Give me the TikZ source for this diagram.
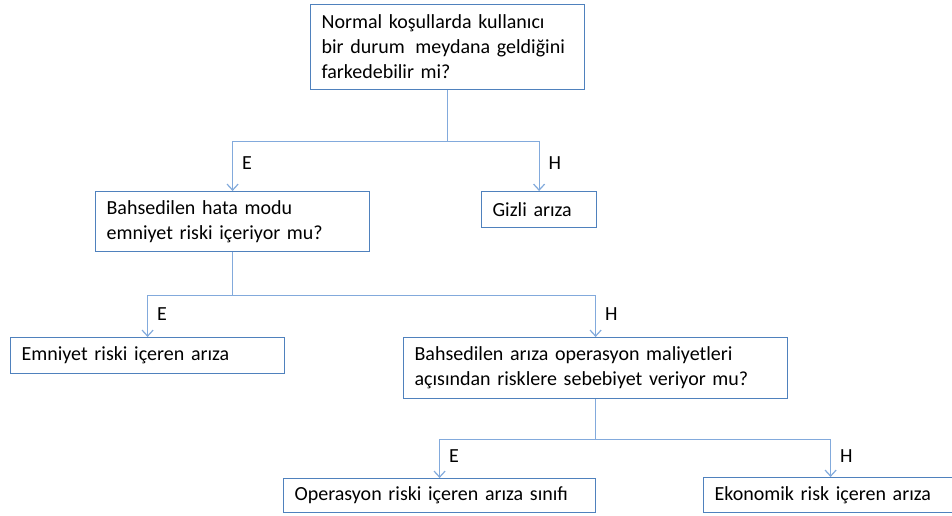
\documentclass[tikz,border=0pt]{standalone}
\usepackage{fontspec}
\setmainfont{Carlito}
\usetikzlibrary{arrows.meta}

\definecolor{boxblue}{RGB}{79,129,189}
\definecolor{linkblue}{RGB}{130,170,220}

\begin{document}
\begin{tikzpicture}[
    x=1pt, y=-1pt,
    font=\fontsize{20}{25}\selectfont,
    box/.style={draw=boxblue, line width=1.2pt, anchor=north west, align=left, inner xsep=11pt, inner ysep=0pt},
    arrow/.style={draw=linkblue, line width=1.2pt, -{Straight Barb[length=6pt, width=11pt]}},
    lbl/.style={anchor=west, inner sep=0pt, xshift=9pt}
]
\useasboundingbox (0,0) rectangle (952,515);

\node[box, text width=252pt, minimum height=85pt] (fark) at (310,4)
    {\mbox{Normal koşullarda kullanıcı}\\\mbox{bir durum\hspace{0.2em} meydana geldiğini}\\farkedebilir mi?};
\node[box, text width=252pt, minimum height=60pt] (hata) at (95,191)
    {Bahsedilen hata modu\\emniyet riski içeriyor mu?};
\node[box, text width=93pt, minimum height=36pt] (gizli) at (481,191) {Gizli arıza};
\node[box, text width=252pt, minimum height=36pt] (emniyet) at (10,337) {Emniyet riski içeren arıza};
\node[box, text width=362pt, minimum height=61pt] (maliyet) at (403,337)
    {Bahsedilen arıza operasyon maliyetleri\\açısından risklere sebebiyet veriyor mu?};
\node[box, text width=290pt, minimum height=34pt] (operasyon) at (283,478) {Operasyon riski içeren arıza sınıfı};
\node[box, text width=232pt, minimum height=35pt] (ekonomik) at (703,477) {Ekonomik risk içeren arıza};

% first question
\draw[arrow] (fark.south) -- ++(0,51) coordinate (j1) -| node[lbl, pos=0.72] (e1) {E} (hata.north);
\draw[arrow] (j1) -| node[lbl, pos=0.72] (h1) {H} (gizli.north);

% second question
\draw[arrow] (hata.south) -- ++(0,43) coordinate (j2) -| node[lbl, pos=0.72] (e2) {E} (emniyet.north);
\draw[arrow] (j2) -| node[lbl, pos=0.72] (h2) {H} (maliyet.north);

% third question
\draw[arrow] (maliyet.south) -- ++(0,40) coordinate (j3) -| node[lbl, pos=0.72] (e3) {E} (operasyon.north);
\draw[arrow] (j3) -| node[lbl, pos=0.72] (h3) {H} (ekonomik.north);
\end{tikzpicture}
\end{document}
